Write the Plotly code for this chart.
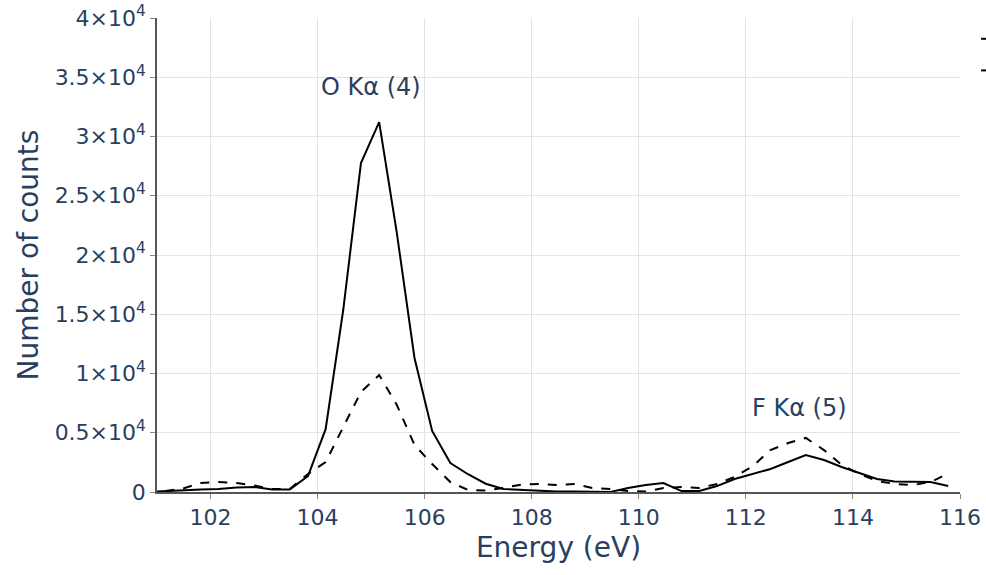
import plotly.graph_objects as go

# Energy grid (eV) shared by both spectra
energy = [100.82, 101.16, 101.49, 101.82, 102.15, 102.49, 102.82, 103.15, 103.48,
          103.82, 104.15, 104.48, 104.81, 105.15, 105.48, 105.81, 106.14, 106.48,
          106.81, 107.14, 107.47, 107.81, 108.14, 108.47, 108.80, 109.13, 109.47,
          109.80, 110.13, 110.46, 110.80, 111.13, 111.46, 111.79, 112.13, 112.46,
          112.79, 113.12, 113.46, 113.79, 114.12, 114.45, 114.78, 115.12, 115.45,
          115.78]

# Counts, solid spectrum
counts_solid = [0, 80, 170, 210, 250, 380, 420, 210, 210, 1350, 5300, 15400, 27760,
                31220, 21860, 11310, 5150, 2450, 1500, 700, 250, 170, 80, 40, 40, 40,
                0, 340, 590, 760, 80, 80, 500, 1100, 1520, 1940, 2530, 3120, 2700,
                2110, 1600, 1100, 890, 840, 840, 500]

# Counts, dashed spectrum
counts_dashed = [0, 80, 300, 760, 840, 760, 550, 250, 250, 1520, 2530, 5490, 8440,
                 9870, 7340, 3970, 2360, 840, 170, 130, 340, 630, 680, 590, 680, 340,
                 250, 80, 40, 340, 420, 340, 680, 1270, 2190, 3540, 4130, 4560, 3540,
                 2280, 1520, 930, 680, 590, 840, 1550]

series_names = ["Measured", "Simulated"]

# Peak labels: (text, energy, height)
peak_labels = [("O Kα (4)", 105.0, 34200), ("F Kα (5)", 113.0, 7100)]

x_ticks = [102, 104, 106, 108, 110, 112, 114, 116]

FONT = "DejaVu Sans, Verdana, sans-serif"
TEXT = "#2a3f5f"

fig = go.Figure()
fig.add_trace(go.Scatter(x=energy, y=counts_solid, mode="lines", name=series_names[0],
                         line=dict(color="black", width=2)))
fig.add_trace(go.Scatter(x=energy, y=counts_dashed, mode="lines", name=series_names[1],
                         line=dict(color="black", width=2, dash="dash")))

for text, ex, ey in peak_labels:
    fig.add_annotation(x=ex, y=ey, text=text, showarrow=False,
                       font=dict(family=FONT, size=24, color=TEXT))

axis_common = dict(
    showgrid=True, gridcolor="#e3e3e3", gridwidth=1,
    showline=True, linecolor="#555555", linewidth=1.5,
    ticks="outside", ticklen=5, tickcolor="#888888",
    tickfont=dict(family=FONT, size=22, color=TEXT),
    zeroline=False,
)

fig.update_xaxes(range=[101, 116], tickvals=x_ticks,
                 title=dict(text="Energy (eV)", font=dict(family=FONT, size=28, color=TEXT),
                            standoff=8),
                 **axis_common)
fig.update_yaxes(range=[0, 40000], dtick=5000, exponentformat="power",
                 title=dict(text="Number of counts", font=dict(family=FONT, size=28, color=TEXT),
                            standoff=8),
                 **axis_common)

fig.update_layout(
    width=986, height=575,
    margin=dict(l=157, r=26, t=18, b=83, autoexpand=False),
    plot_bgcolor="white", paper_bgcolor="white",
    font=dict(family=FONT, color=TEXT),
    legend=dict(x=1.02, y=1, font=dict(family=FONT, size=22, color=TEXT)),
)

fig.write_html("out.html")
